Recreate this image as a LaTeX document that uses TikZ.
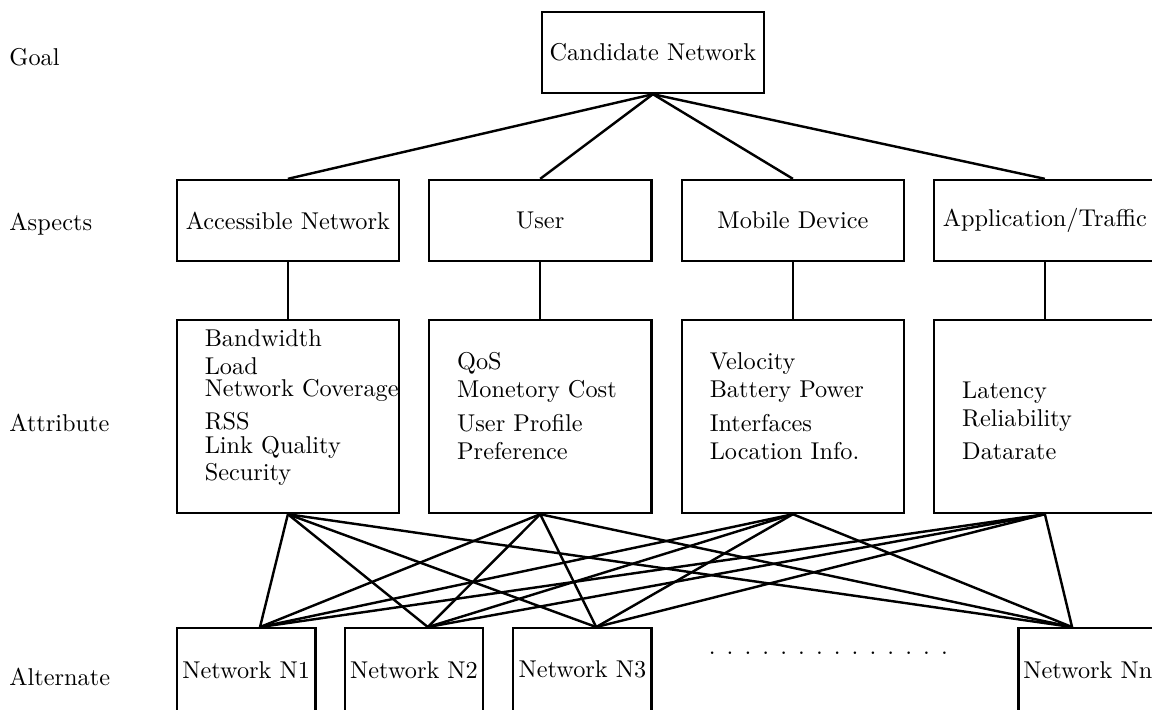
\documentclass[tikz,border=0pt]{standalone}
\usepackage{tikz}
\usetikzlibrary{positioning,calc}

\begin{document}
\begin{tikzpicture}[
    box/.style={rectangle, draw, line width=1pt, inner sep=2pt, minimum width=3.215cm, minimum height=1.171cm},
    attrbox/.style={box, minimum height=2.791cm},
    altbox/.style={box, minimum width=2.0cm, minimum height=1.2cm},
    attrtext/.style={align=left, anchor=base west, inner sep=0pt},
    rowlabel/.style={anchor=base west, inner sep=0pt},
    link/.style={line width=1pt}
]
    \useasboundingbox (0,0) rectangle (16.659,-10.253);
    \clip (0,0) rectangle (16.659,-10.253);
    % level names
    \node[rowlabel] (lgoal) at (0.130,-0.954) {Goal};
    \node[rowlabel] (laspect) at (0.130,-3.326) {Aspects};
    \node[rowlabel] (lattr) at (0.130,-6.233) {Attribute};
    \node[rowlabel] (lalt) at (0.130,-9.906) {Alternate};
    % goal
    \node[box] (goal) at (9.442,-0.759) {Candidate Network};
    % aspects
    \node[box] (as1) at (4.163,-3.189) {Accessible Network};
    \node[box] (as2) at (7.812,-3.189) {User};
    \node[box] (as3) at (11.466,-3.189) {Mobile Device};
    \node[box] (as4) at (15.110,-3.189) {Application/Traffic};
    % attributes
    \node[attrbox] (at1) at (4.163,-6.023) {};
    \node[attrbox] (at2) at (7.812,-6.023) {};
    \node[attrbox] (at3) at (11.466,-6.023) {};
    \node[attrbox] (at4) at (15.110,-6.023) {};
    \node[attrtext] (tx1) at (2.954,-6.941) {Bandwidth\\[-0.6pt] Load\\[-2.8pt] Network Coverage\\[1.7pt] RSS\\[-2.1pt] Link Quality\\[-1.3pt] Security};
    \node[attrtext] (tx2) at (6.604,-6.642) {QoS\\[-0.6pt] Monetory Cost\\[2pt] User Profile\\[-0.6pt] Preference};
    \node[attrtext] (tx3) at (10.257,-6.642) {Velocity\\[-0.6pt] Battery Power\\[2pt] Interfaces\\[-0.6pt] Location Info.};
    \node[attrtext] (tx4) at (13.907,-6.642) {Latency\\[-0.6pt] Reliability\\[1.7pt] Datarate};
    % alternatives
    \node[altbox] (n1) at (3.560,-9.685) {Network N1};
    \node[altbox] (n2) at (5.987,-9.685) {Network N2};
    \node[altbox] (n3) at (8.422,-9.685) {Network N3};
    \node[altbox] (nn) at (15.731,-9.685) {Network Nn};
    \node[inner sep=0pt, anchor=base west] (more) at (10.243,-9.462) {\foreach \k in {1,...,14}{\makebox[7.35pt][l]{.}}};
    \coordinate (c1) at ([xshift=0.2cm]n1.north);
    \coordinate (c2) at ([xshift=0.2cm]n2.north);
    \coordinate (c3) at ([xshift=0.2cm]n3.north);
    \coordinate (cn) at ([xshift=-0.228cm]nn.north);
    % links
    \foreach \a in {as1,as2,as3,as4}
        \draw[link] (goal.south) -- (\a.north);
    \foreach \i in {1,...,4}
        \draw[link] (as\i.south) -- (at\i.north);
    \foreach \i in {1,...,4}
        \foreach \c in {c1,c2,c3,cn}
            \draw[link] (at\i.south) -- (\c);
\end{tikzpicture}
\end{document}
